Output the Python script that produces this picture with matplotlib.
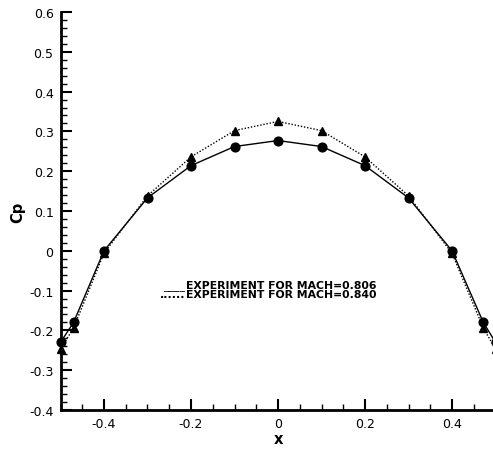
import matplotlib
matplotlib.use("Agg")
import matplotlib.pyplot as plt
from matplotlib.ticker import MultipleLocator

plt.rcParams['font.family'] = ['DejaVu Sans']

x_806 = [-0.5, -0.47, -0.4, -0.3, -0.2, -0.1, 0.0, 0.1, 0.2, 0.3, 0.4, 0.472, 0.5]
cp_806 = [-0.23, -0.18, 0.0, 0.133, 0.214, 0.262, 0.277, 0.262, 0.214, 0.133, 0.0, -0.18, -0.23]
x_840 = [-0.5, -0.47, -0.4, -0.3, -0.2, -0.1, 0.0, 0.1, 0.2, 0.3, 0.4, 0.472, 0.5]
cp_840 = [-0.247, -0.194, -0.006, 0.138, 0.236, 0.302, 0.325, 0.302, 0.236, 0.138, -0.006, -0.194, -0.247]
legend_labels = ["EXPERIMENT FOR MACH=0.806", "EXPERIMENT FOR MACH=0.840"]

W, H = 493, 452
fig = plt.figure(figsize=(W / 100, H / 100), dpi=100)
left, right, top, bottom = 60.5, 495.5, 13, 411
ax = fig.add_axes([left / W, (H - bottom) / H, (right - left) / W, (bottom - top) / H])

ax.plot(x_806, cp_806, color='black', lw=1.0, ls='-', marker='o', ms=6.3,
        clip_on=False, zorder=3)
ax.plot(x_840, cp_840, color='black', lw=1.0, ls=(0, (1, 1.3)), marker='^', ms=6.3,
        clip_on=False, zorder=3)

ax.set_xlim(-0.5, 0.5)
ax.set_ylim(-0.4, 0.6)
ax.xaxis.set_major_locator(MultipleLocator(0.2))
ax.xaxis.set_minor_locator(MultipleLocator(0.05))
ax.yaxis.set_major_locator(MultipleLocator(0.1))
ax.yaxis.set_minor_locator(MultipleLocator(0.02))

def fmt(v, pos):
    s = f"{v:.1f}"
    if s in ("0.0", "-0.0"):
        return "0"
    return s
ax.xaxis.set_major_formatter(plt.FuncFormatter(fmt))
ax.yaxis.set_major_formatter(plt.FuncFormatter(fmt))

ax.tick_params(which='major', direction='in', length=8, width=1.5, labelsize=9, pad=5)
ax.tick_params(which='minor', direction='in', length=4, width=1.0)
ax.tick_params(axis='y', which='both', right=False)
ax.tick_params(axis='x', which='both', top=False)
for s in ('top', 'right'):
    ax.spines[s].set_visible(False)
for s in ('left', 'bottom'):
    ax.spines[s].set_linewidth(2)

ax.set_xlabel('x', fontsize=10.5, fontweight='bold', labelpad=1)
ax.set_ylabel('Cp', fontsize=10.5, fontweight='bold', labelpad=3)

# legend text
tx = -0.2105
y1, y2 = -0.0925, -0.1165
ax.text(tx, y1, legend_labels[0], fontsize=7.8, fontweight='bold', ha='left', va='baseline')
ax.text(tx - 0.002, y1, '____', fontsize=7.8, ha='right', va='baseline')
ax.text(tx, y2, legend_labels[1], fontsize=7.8, fontweight='bold', ha='left', va='baseline')
ax.text(tx - 0.002, y2, '......', fontsize=7.8, fontweight='bold', ha='right', va='baseline')

fig.savefig('out.png', dpi=100)
